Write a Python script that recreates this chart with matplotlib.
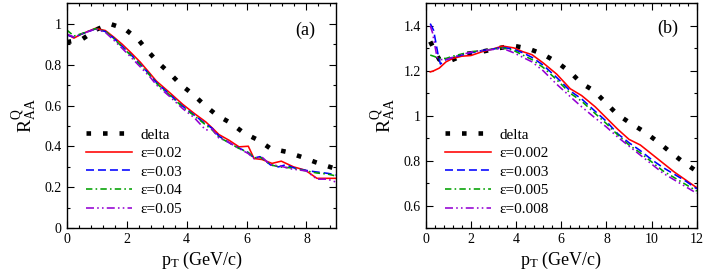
import matplotlib
matplotlib.use("Agg")
import matplotlib.pyplot as plt
from matplotlib.ticker import AutoMinorLocator, FuncFormatter

plt.rcParams['font.family'] = ['Liberation Serif', 'DejaVu Serif']
plt.rcParams['mathtext.fontset'] = 'custom'
plt.rcParams['mathtext.rm'] = 'Liberation Serif'
plt.rcParams['mathtext.it'] = 'Liberation Serif:italic'

# panel (a)
a_delta_x = [0.0, 0.52, 0.99, 1.44, 1.93, 2.38, 2.71, 3.07, 3.45, 3.81, 4.22, 4.61, 5.01,
             5.47, 5.91, 6.39, 6.8, 7.32, 7.83, 8.32, 8.84, 9.0]
a_delta_y = [0.91, 0.925, 0.972, 1.0, 0.976, 0.924, 0.866, 0.808, 0.756, 0.702, 0.654, 0.601,
             0.553, 0.515, 0.466, 0.431, 0.39, 0.374, 0.349, 0.322, 0.297, 0.29]

a_red_x = [0, 0.24, 0.5, 0.96, 1.29, 1.57, 1.85, 2.12, 2.45, 2.79, 2.99, 3.43, 3.87, 4.26, 4.64,
           4.86, 5.08, 5.42, 5.75, 6.06, 6.25, 6.52, 6.85, 7.16, 7.57, 7.96, 8.35, 9.0]
a_red_y = [0.95, 0.93, 0.95, 0.978, 0.967, 0.935, 0.9, 0.862, 0.813, 0.755, 0.72, 0.664, 0.606,
           0.561, 0.52, 0.49, 0.458, 0.43, 0.398, 0.401, 0.341, 0.336, 0.317, 0.328, 0.30, 0.284,
           0.244, 0.244]

a_blue_x = [0, 0.24, 0.5, 0.96, 1.29, 1.57, 1.85, 2.12, 2.45, 2.79, 3.0, 3.43, 3.87, 4.26, 4.64,
            4.86, 5.08, 5.42, 5.75, 6.06, 6.25, 6.45, 6.8, 7.07, 7.3, 7.63, 8.02, 8.29, 8.73, 9.0]
a_blue_y = [0.945, 0.935, 0.95, 0.975, 0.962, 0.93, 0.89, 0.852, 0.803, 0.748, 0.712, 0.655,
            0.597, 0.553, 0.51, 0.488, 0.45, 0.418, 0.392, 0.37, 0.343, 0.35, 0.31, 0.30, 0.31,
            0.293, 0.282, 0.276, 0.268, 0.26]

a_green_x = [0, 0.24, 0.5, 0.96, 1.29, 1.57, 1.85, 2.12, 2.45, 2.79, 3.0, 3.43, 3.87, 4.26, 4.64,
             4.86, 5.08, 5.42, 5.75, 6.06, 6.25, 6.5, 6.8, 7.1, 7.5, 8.0, 8.35, 8.7, 9.0]
a_green_y = [0.97, 0.94, 0.952, 0.976, 0.963, 0.928, 0.887, 0.848, 0.8, 0.745, 0.708, 0.652,
             0.593, 0.55, 0.505, 0.48, 0.445, 0.418, 0.39, 0.37, 0.345, 0.345, 0.31, 0.30, 0.295,
             0.28, 0.27, 0.265, 0.255]

a_purple_x = [0, 0.24, 0.5, 0.96, 1.29, 1.57, 1.85, 2.12, 2.45, 2.79, 3.0, 3.43, 3.87, 4.26, 4.64,
              4.86, 5.08, 5.3, 5.75, 6.06, 6.25, 6.5, 6.8, 7.1, 7.5, 8.0, 8.35, 8.7, 9.0]
a_purple_y = [0.95, 0.935, 0.95, 0.975, 0.958, 0.92, 0.88, 0.84, 0.79, 0.738, 0.7, 0.645, 0.585,
              0.54, 0.48, 0.485, 0.44, 0.43, 0.39, 0.365, 0.34, 0.35, 0.31, 0.305, 0.29, 0.28,
              0.24, 0.24, 0.225]

a_labels = ["delta", "ε=0.02", "ε=0.03", "ε=0.04", "ε=0.05"]

# panel (b)
b_delta_x = [0.2, 0.6, 1.12, 1.8, 2.49, 3.19, 3.86, 4.56, 5.19, 5.83, 6.4, 6.89, 7.45, 7.96,
             8.47, 9.06, 9.66, 10.25, 10.8, 11.36, 11.95, 12.0]
b_delta_y = [1.33, 1.25, 1.246, 1.275, 1.285, 1.30, 1.312, 1.298, 1.274, 1.237, 1.194, 1.145,
             1.111, 1.059, 1.007, 0.967, 0.93, 0.886, 0.841, 0.797, 0.756, 0.752]

b_x = [0.2, 0.35, 0.6, 0.9, 1.2, 1.6, 2.0, 2.5, 3.0, 3.4, 3.9, 4.3, 4.7, 5.2, 5.8, 6.4, 6.9,
       7.5, 8.0, 8.5, 9.0, 9.5, 10.0, 10.5, 11.0, 11.5, 12.0]
b_red_y = [1.195, 1.20, 1.212, 1.24, 1.255, 1.265, 1.268, 1.285, 1.298, 1.31, 1.302, 1.285,
           1.272, 1.235, 1.185, 1.12, 1.09, 1.04, 0.99, 0.94, 0.895, 0.87, 0.83, 0.79, 0.75,
           0.715, 0.68]

b_blue_x = [0.2, 0.35, 0.55, 0.65, 0.9, 1.2, 1.6, 2.0, 2.5, 3.0, 3.4, 3.9, 4.3, 4.7, 5.2, 5.8,
            6.4, 6.9, 7.5, 8.0, 8.5, 9.0, 9.5, 10.0, 10.5, 11.0, 11.5, 12.0]
b_blue_y = [1.41, 1.38, 1.27, 1.23, 1.25, 1.26, 1.27, 1.28, 1.29, 1.297, 1.305, 1.295, 1.28,
            1.26, 1.225, 1.17, 1.11, 1.075, 1.02, 0.975, 0.92, 0.88, 0.845, 0.805, 0.77, 0.74,
            0.71, 0.675]

b_green_y = [1.27, 1.265, 1.255, 1.255, 1.265, 1.275, 1.285, 1.29, 1.297, 1.302, 1.29, 1.27,
             1.25, 1.215, 1.16, 1.10, 1.065, 1.01, 0.965, 0.915, 0.87, 0.835, 0.795, 0.755,
             0.725, 0.695, 0.665]

b_purple_x = [0.2, 0.3, 0.5, 0.65, 0.9, 1.2, 1.6, 2.0, 2.5, 3.0, 3.4, 3.9, 4.3, 4.7, 5.2, 5.8,
              6.4, 6.9, 7.5, 8.0, 8.5, 9.0, 9.5, 10.0, 10.5, 11.0, 11.5, 12.0]
b_purple_y = [1.40, 1.37, 1.26, 1.25, 1.25, 1.26, 1.272, 1.283, 1.29, 1.295, 1.30, 1.28, 1.26,
              1.24, 1.2, 1.14, 1.085, 1.04, 0.99, 0.95, 0.905, 0.865, 0.825, 0.785, 0.745,
              0.715, 0.685, 0.655]

b_labels = ["delta", "ε=0.002", "ε=0.003", "ε=0.005", "ε=0.008"]

RED = "#ff0000"
BLUE = "#0000ff"
GREEN = "#00a000"
PURPLE = "#9400d3"
DOTS = (0, (1, 2.6))
DASH = (0, (5, 2.5))
DASHDOT = (0, (4, 2, 1, 2))
DASHDOTDOT = (0, (5, 2, 1, 2, 1, 2))
LW = 1.15

fig = plt.figure(figsize=(7.06, 2.8), dpi=100)
ax1 = fig.add_axes([0.0945, 0.185, 0.382, 0.803])
ax2 = fig.add_axes([0.603, 0.185, 0.384, 0.803])


def style_axis(ax):
    ax.tick_params(which="both", direction="in", top=True, right=True, labelsize=10)
    ax.tick_params(which="major", length=5, width=0.8)
    ax.tick_params(which="minor", length=2.5, width=0.8)
    for s in ax.spines.values():
        s.set_linewidth(1.0)
    ax.set_xlabel(r"p$_\mathrm{T}$ (GeV/c)", fontsize=13, labelpad=3)
    ax.set_ylabel(r"$\mathrm{R}^{\mathrm{Q}}_{\mathrm{AA}}$", fontsize=14, labelpad=4)
    ax.yaxis.set_major_formatter(FuncFormatter(lambda v, p: "%g" % round(v, 3)))


ax1.plot(a_delta_x, a_delta_y, color="black", lw=3.3, linestyle=DOTS, label=a_labels[0])
ax1.plot(a_red_x, a_red_y, color=RED, lw=LW, label=a_labels[1])
ax1.plot(a_blue_x, a_blue_y, color=BLUE, lw=LW, linestyle=DASH, label=a_labels[2])
ax1.plot(a_green_x, a_green_y, color=GREEN, lw=LW, linestyle=DASHDOT, label=a_labels[3])
ax1.plot(a_purple_x, a_purple_y, color=PURPLE, lw=LW, linestyle=DASHDOTDOT, label=a_labels[4])
ax1.set_xlim(0, 9)
ax1.set_ylim(0, 1.1)
ax1.set_xticks([0, 2, 4, 6, 8])
ax1.set_yticks([0, 0.2, 0.4, 0.6, 0.8, 1.0])
ax1.xaxis.set_minor_locator(AutoMinorLocator(5))
ax1.yaxis.set_minor_locator(AutoMinorLocator(2))
style_axis(ax1)
ax1.text(0.885, 0.88, "(a)", transform=ax1.transAxes, fontsize=13, ha="center", va="center")
ax1.legend(loc="lower left", frameon=False, fontsize=11, handlelength=3.0, handletextpad=0.6,
           labelspacing=0.32, borderaxespad=0.4, bbox_to_anchor=(0.025, 0.0))

ax2.plot(b_delta_x, b_delta_y, color="black", lw=3.3, linestyle=DOTS, label=b_labels[0])
ax2.plot(b_x, b_red_y, color=RED, lw=LW, label=b_labels[1])
ax2.plot(b_blue_x, b_blue_y, color=BLUE, lw=LW, linestyle=DASH, label=b_labels[2])
ax2.plot(b_x, b_green_y, color=GREEN, lw=LW, linestyle=DASHDOT, label=b_labels[3])
ax2.plot(b_purple_x, b_purple_y, color=PURPLE, lw=LW, linestyle=DASHDOTDOT, label=b_labels[4])
ax2.set_xlim(0, 12)
ax2.set_ylim(0.5, 1.5)
ax2.set_xticks([0, 2, 4, 6, 8, 10, 12])
ax2.set_yticks([0.6, 0.8, 1.0, 1.2, 1.4])
ax2.xaxis.set_minor_locator(AutoMinorLocator(5))
ax2.yaxis.set_minor_locator(AutoMinorLocator(2))
style_axis(ax2)
ax2.text(0.893, 0.89, "(b)", transform=ax2.transAxes, fontsize=13, ha="center", va="center")
ax2.legend(loc="lower left", frameon=False, fontsize=11, handlelength=3.0, handletextpad=0.6,
           labelspacing=0.32, borderaxespad=0.4, bbox_to_anchor=(0.025, 0.0))

fig.savefig("out.png", dpi=100)
